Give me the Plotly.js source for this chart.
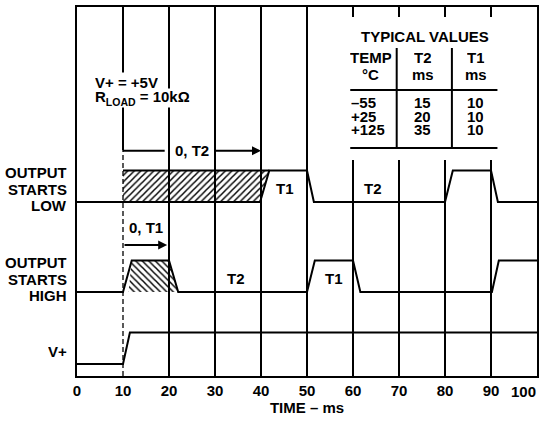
<!DOCTYPE html>
<html><head><meta charset="utf-8">
<script src="https://cdn.plot.ly/plotly-3.0.1.min.js"></script>
<style>html,body{margin:0;padding:0;background:#fff}#chart{width:549px;height:423px}</style>
</head><body><div id="chart"></div>
<script>
// ---- data ----
const xTicks = [0, 10, 20, 30, 40, 50, 60, 70, 80, 90, 100];
const xTitle = 'TIME – ms';
const tableTitle = 'TYPICAL VALUES';
const tableHead1 = ['TEMP', 'T2', 'T1'];
const tableHead2 = ['°C', 'ms', 'ms'];
const tempC = ['–55', '+25', '+125'];
const t2ms = ['15', '20', '35'];
const t1ms = ['10', '10', '10'];

// waveform breakpoints (ms) and logic levels (0 = low, 1 = high)
const lowT = [0, 39.8, 41.8, 50, 51.5, 80, 81.7, 90, 91.5, 100];
const lowLvl = [0, 0, 1, 1, 0, 0, 1, 1, 0, 0];
const lowWinT = [10, 41.8];
const lowWinLvl = [1, 1];
const lowHatchT = [10, 10, 41.8, 39.8];
const lowHatchLvl = [0, 1, 1, 0];

const highT = [0, 10, 11.9, 20, 22, 50, 51.7, 60, 61.6, 90.2, 91.7, 100];
const highLvl = [0, 0, 1, 1, 0, 0, 1, 1, 0, 0, 1, 1];
const highHatchT = [11.2, 11.9, 20, 22];
const highHatchLvl = [0, 1, 1, 0];

const vT = [0, 10, 11.5, 100];
const vLvl = [0, 0, 1, 1];

const powerOnT = 10;
const t2Arrow = [10, 40];
const t1Arrow = [10, 19.6];
const t2Label = '0, T2';
const t1Label = '0, T1';

const channelLabels = [['OUTPUT', 'STARTS', 'LOW'], ['OUTPUT', 'STARTS', 'HIGH'], ['V+']];
const segLabels = ['T1', 'T2', 'T2', 'T1'];
const segLabelT = [45.2, 64.4, 34.6, 55.8];
const segChannel = [0, 0, 1, 1];
const condLines = ['V+ = +5V', 'R<sub>LOAD</sub> = 10kΩ'];

// ---- layout geometry (y axis in plot pixels from bottom) ----
const bases = [174, 84, 12];
const swing = 31.5;
const lvlY = (b, arr) => arr.map(v => b + v * swing);
const FONT = 'Liberation Sans, Arial, Helvetica, sans-serif';
const TIGHT = {height: 14, borderpad: 0};

const lineStyle = {color: '#000', width: 2};
const traces = [];
function wave(t, y, extra) {
  traces.push(Object.assign({x: t, y: y, mode: 'lines', line: lineStyle,
    hoverinfo: 'skip', showlegend: false}, extra || {}));
}
// hatched windows
wave(lowHatchT, lvlY(bases[0], lowHatchLvl), {fill: 'toself', line: {width: 0, color: '#000'},
  fillcolor: 'rgba(0,0,0,0)',
  fillpattern: {shape: '/', size: 4.6, solidity: 0.32, fgcolor: '#000', bgcolor: 'rgba(0,0,0,0)'}});
wave(highHatchT, lvlY(bases[1], highHatchLvl), {fill: 'toself', line: {width: 0, color: '#000'},
  fillcolor: 'rgba(0,0,0,0)',
  fillpattern: {shape: '\\', size: 4.6, solidity: 0.32, fgcolor: '#000', bgcolor: 'rgba(0,0,0,0)'}});
// waveforms
wave(lowT, lvlY(bases[0], lowLvl));
wave(lowWinT, lvlY(bases[0], lowWinLvl));
wave(highT, lvlY(bases[1], highLvl));
wave(vT, lvlY(bases[2], vLvl));

// ---- annotations ----
const ann = [];
function txt(o) { ann.push(Object.assign({showarrow: false}, o)); }
// channel labels on the left
channelLabels.forEach((lines, ci) => {
  const center = bases[ci] + 13.5;
  const n = lines.length;
  lines.forEach((s, i) => {
    txt(Object.assign({text: s, xref: 'paper', yref: 'y', x: 0, y: center + ((n - 1) / 2 - i) * 16.6,
      xanchor: 'right', yanchor: 'middle', xshift: -9}, TIGHT));
  });
});
// last tick label kept inside the frame (right-aligned to the axis end)
const lastTick = xTicks[xTicks.length - 1];
txt({text: String(lastTick), x: lastTick, xref: 'x', yref: 'paper', y: 0, xanchor: 'right',
  yanchor: 'middle', yshift: -15, xshift: 1});
// T1/T2 segment labels
segLabels.forEach((s, i) => {
  txt({text: s, x: segLabelT[i], y: bases[segChannel[i]] + 14});
});
// conditions
condLines.forEach((s, i) => {
  txt({text: s, x: 3.4, y: 294 - i * 16, xanchor: 'left', bgcolor: '#fff', borderpad: 1, height: 16});
});
// 0, T2 arrow
ann.push({text: t2Label, x: t2Arrow[1], y: 225.3, ax: 24.9, ay: 225.3, axref: 'x', ayref: 'y',
  showarrow: true, arrowhead: 2, arrowwidth: 2, arrowsize: 0.9, arrowcolor: '#000', borderpad: 6});
// 0, T1 arrow
ann.push({text: '', x: t1Arrow[1], y: 131, ax: t1Arrow[0], ay: 131, axref: 'x', ayref: 'y',
  showarrow: true, arrowhead: 2, arrowwidth: 2, arrowsize: 0.9, arrowcolor: '#000'});
txt({text: t1Label, x: 14.9, y: 149});
// table
txt({text: tableTitle, x: 75.7, y: 340});
const colX = [63.9, 75.3, 86.7];
tableHead1.forEach((s, i) => txt(Object.assign({text: s, x: colX[i], y: 319.3}, TIGHT)));
tableHead2.forEach((s, i) => txt(Object.assign({text: s, x: colX[i], y: 302}, TIGHT)));
const rowY = [274, 260, 246.5];
tempC.forEach((s, i) => txt(Object.assign({text: s, x: 59.4, y: rowY[i], xanchor: 'left'}, TIGHT, {height: 13})));
t2ms.forEach((s, i) => txt(Object.assign({text: s, x: 75.2, y: rowY[i]}, TIGHT, {height: 13})));
t1ms.forEach((s, i) => txt(Object.assign({text: s, x: 86.7, y: rowY[i]}, TIGHT, {height: 13})));

// ---- shapes ----
const shapes = [
  // white box behind table (hides grid)
  {type: 'rect', x0: 51, x1: 99.6, y0: 216, y1: 359, fillcolor: '#fff', line: {width: 0}, layer: 'between'},
  // power-on marker: hide solid grid below the arrow, draw dashed line
  {type: 'line', x0: powerOnT, x1: powerOnT, y0: 0, y1: 226, line: {color: '#fff', width: 3}, layer: 'between'},
  {type: 'line', x0: powerOnT, x1: powerOnT, y0: 0, y1: 226, line: {color: '#000', width: 1.3, dash: '5px,3px'}, layer: 'between'},
  // left part of 0,T2 arrow
  {type: 'line', x0: t2Arrow[0], x1: 19.06, y0: 225.3, y1: 225.3, line: {color: '#000', width: 2}},
  // table rules
  {type: 'line', x0: 69.5, x1: 69.5, y0: 228, y1: 328, line: {color: '#000', width: 2}},
  {type: 'line', x0: 81.5, x1: 81.5, y0: 228, y1: 328, line: {color: '#000', width: 2}},
  {type: 'line', x0: 59.4, x1: 91.4, y0: 286, y1: 286, line: {color: '#000', width: 2}},
  {type: 'line', x0: 59.4, x1: 91.4, y0: 228, y1: 228, line: {color: '#000', width: 2}}
];

const gridTicks = xTicks.slice(0, -1);
const layout = {
  width: 549, height: 423,
  margin: {l: 77, r: 12, t: 7, b: 47},
  paper_bgcolor: '#fff', plot_bgcolor: '#fff',
  font: {family: FONT, size: 15, color: '#000', weight: 'bold'},
  showlegend: false,
  xaxis: {range: [0, 100], tickvals: gridTicks, ticktext: gridTicks.map(String),
    showgrid: true, gridcolor: '#000', gridwidth: 1.2, zeroline: false,
    showline: true, mirror: true, linecolor: '#000', linewidth: 2, ticks: '',
    tickfont: {size: 15, weight: 'bold'},
    title: {text: xTitle, font: {size: 15, weight: 'bold'}, standoff: 4}},
  yaxis: {range: [0, 369], showgrid: false, zeroline: false, showticklabels: false,
    showline: true, mirror: true, linecolor: '#000', linewidth: 2, ticks: ''},
  annotations: ann,
  shapes: shapes
};
Plotly.newPlot('chart', traces, layout, {staticPlot: true, displayModeBar: false});
</script>
</body></html>
